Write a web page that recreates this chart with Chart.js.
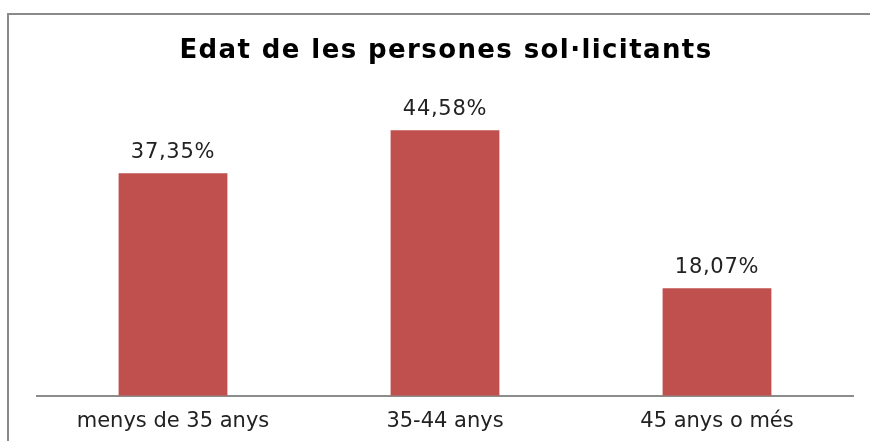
<!DOCTYPE html>
<html>
<head>
<meta charset="utf-8">
<script src="https://cdn.jsdelivr.net/npm/chart.js@4/dist/chart.umd.min.js"></script>
<style>
  html, body { margin: 0; padding: 0; background: #fff; }
  #wrap { width: 870px; height: 441px; }
</style>
</head>
<body>
<div id="wrap"><canvas id="chart" width="870" height="441"></canvas></div>
<script>
const titleText = 'Edat de les persones sol·licitants';
const categories = ['menys de 35 anys', '35-44 anys', '45 anys o més'];
const percents = [37.35, 44.58, 18.07];
const labelTexts = ['37,35%', '44,58%', '18,07%'];

const FONT = '"DejaVu Sans", Verdana, sans-serif';

// frame around the whole chart (top/left/right visible) + title
const framePlugin = {
    id: 'frame',
    beforeDraw(chart) {
        const ctx = chart.ctx;
        ctx.save();
        ctx.strokeStyle = '#8a8a8a';
        ctx.lineWidth = 2;
        ctx.strokeRect(8, 14, 900, 600);
        ctx.font = 'bold 26px ' + FONT;
        ctx.letterSpacing = '1.4px';
        ctx.fillStyle = '#000';
        ctx.textAlign = 'center';
        ctx.textBaseline = 'middle';
        ctx.fillText(titleText, 446, 51);
        ctx.restore();
    }
};

// value labels above each bar
const valueLabels = {
    id: 'valueLabels',
    afterDatasetsDraw(chart) {
        const ctx = chart.ctx;
        const meta = chart.getDatasetMeta(0);
        ctx.save();
        ctx.font = '21px ' + FONT;
        ctx.letterSpacing = '0.7px';
        ctx.fillStyle = '#222';
        ctx.textAlign = 'center';
        ctx.textBaseline = 'middle';
        meta.data.forEach((bar, i) => {
            ctx.fillText(labelTexts[i], bar.x, bar.y - 21);
        });
        ctx.restore();
    }
};

new Chart(document.getElementById('chart'), {
    type: 'bar',
    data: {
        labels: categories,
        datasets: [{
            data: percents,
            backgroundColor: '#C0504D',
            borderWidth: 0,
            barPercentage: 0.4,
            categoryPercentage: 1.0
        }]
    },
    options: {
        responsive: false,
        animation: false,
        layout: { padding: { left: 37, right: 17, top: 98, bottom: -6 } },
        plugins: {
            legend: { display: false },
            tooltip: { enabled: false },
            title: { display: false }
        },
        scales: {
            x: {
                grid: { display: false, drawTicks: false },
                border: { display: true, color: '#8c8c8c', width: 2 },
                ticks: {
                    color: '#222',
                    padding: 13,
                    font: { family: FONT, size: 21 }
                }
            },
            y: {
                display: false,
                min: 0,
                max: 50
            }
        }
    },
    plugins: [framePlugin, valueLabels]
});
</script>
</body>
</html>
